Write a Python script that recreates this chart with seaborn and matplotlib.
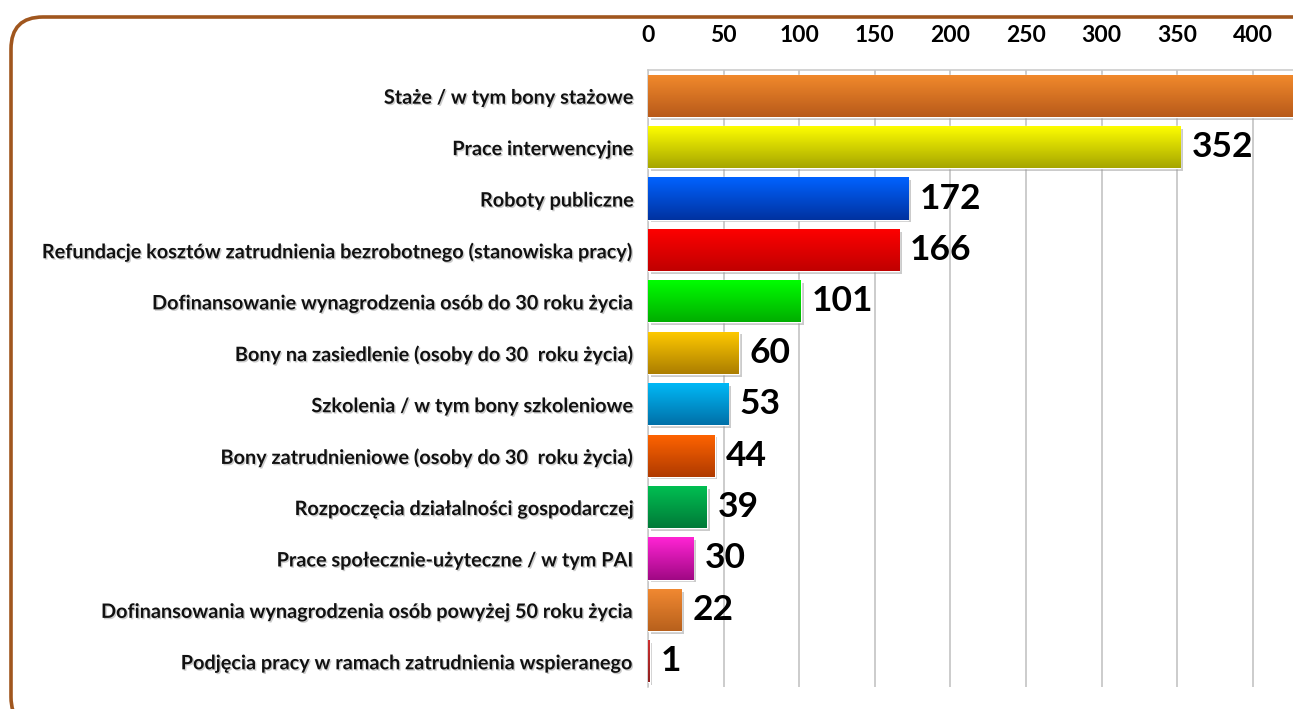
import numpy as np
import pandas as pd
import matplotlib
matplotlib.use("Agg")
import matplotlib.pyplot as plt
import matplotlib.patheffects as pe
from matplotlib.patches import FancyBboxPatch
from matplotlib.transforms import IdentityTransform
from matplotlib.colors import LinearSegmentedColormap, to_rgb
import seaborn as sns

categories = [
    "Staże / w tym bony stażowe",
    "Prace interwencyjne",
    "Roboty publiczne",
    "Refundacje kosztów zatrudnienia bezrobotnego (stanowiska pracy)",
    "Dofinansowanie wynagrodzenia osób do 30 roku życia",
    "Bony na zasiedlenie (osoby do 30  roku życia)",
    "Szkolenia / w tym bony szkoleniowe",
    "Bony zatrudnieniowe (osoby do 30  roku życia)",
    "Rozpoczęcia działalności gospodarczej",
    "Prace społecznie-użyteczne / w tym PAI",
    "Dofinansowania wynagrodzenia osób powyżej 50 roku życia",
    "Podjęcia pracy w ramach zatrudnienia wspieranego",
]
values = [470, 352, 172, 166, 101, 60, 53, 44, 39, 30, 22, 1]
top_colors = ["#F28A2C", "#FFFF00", "#0062FF", "#FF0000", "#00FF00", "#FFCA00",
              "#00BAF8", "#FF6400", "#00C052", "#FF24D4", "#F28A32", "#D03030"]
bottom_colors = ["#B85A1A", "#A6A600", "#0032A0", "#C00000", "#00AE00", "#AC7E00",
                 "#0070A8", "#B03A00", "#007A38", "#A00884", "#B8601C", "#902020"]
tick_values = [0, 50, 100, 150, 200, 250, 300, 350, 400]

W, H = 1293, 709
sns.set_theme(style="white")
plt.rcParams["font.family"] = ["Lato", "DejaVu Sans"]

fig = plt.figure(figsize=(W / 100, H / 100), dpi=100)
fig.patch.set_facecolor("white")

# frame
frame = FancyBboxPatch((11, -20), 1400, H - 17 + 20,
                       boxstyle="round,pad=0,rounding_size=32",
                       transform=IdentityTransform(), facecolor="none",
                       edgecolor="#A0561E", linewidth=2.6, zorder=0)
fig.patches.append(frame)

x0_px, px_per_unit = 648, 1.5125
xmax = 460
ax_left = x0_px / W
ax_width = xmax * px_per_unit / W
ax_top_px, ax_bot_px = 70, 687
ax = fig.add_axes([ax_left, 1 - ax_bot_px / H, ax_width, (ax_bot_px - ax_top_px) / H])

df = pd.DataFrame({"cat": categories, "val": values})
sns.barplot(data=df, y="cat", x="val", hue="cat", palette=top_colors, orient="h",
            legend=False, width=0.82, ax=ax, saturation=1, zorder=3)

# gradients + shadows
for i, p in enumerate(ax.patches):
    x, y = p.get_x(), p.get_y()
    w, h = p.get_width(), p.get_height()
    cmap = LinearSegmentedColormap.from_list("g", [to_rgb(top_colors[i]), to_rgb(bottom_colors[i])])
    grad = np.linspace(0, 1, 64).reshape(-1, 1)
    im = ax.imshow(grad, cmap=cmap, aspect="auto", extent=(x, x + w, y + h, y),
                   origin="upper", zorder=3.5, interpolation="bicubic")
    im.set_clip_path(p)
    p.set_path_effects([pe.SimplePatchShadow(offset=(2, -2), shadow_rgbFace="#999999", alpha=0.5), pe.Normal()])

ax.set_xlim(0, xmax)
ax.set_ylim(len(categories) - 0.5, -0.5)

ax.xaxis.tick_top()
ax.set_xticks(tick_values)
ax.set_xticklabels([str(t) for t in tick_values], fontsize=16.5, fontweight="bold", color="black")
ax.tick_params(axis="x", length=0, pad=17)
ax.tick_params(axis="y", length=0, pad=10)
ax.set_yticks(range(len(categories)))
ax.set_yticklabels(categories, fontsize=14.3, fontweight="bold", color="#111111")
for lbl in ax.get_yticklabels():
    lbl.set_path_effects([pe.withSimplePatchShadow(offset=(1, -1), shadow_rgbFace="#aaaaaa", alpha=0.6)])
ax.set_xlabel("")
ax.set_ylabel("")
ax.xaxis.grid(True, color="#BEBEBE", linewidth=1.1, zorder=0)
ax.set_axisbelow(True)
for s in ["right", "bottom"]:
    ax.spines[s].set_visible(False)
for s in ["top", "left"]:
    ax.spines[s].set_visible(True)
    ax.spines[s].set_color("#C8C8C8")
    ax.spines[s].set_linewidth(1.1)

# value labels (the first bar's label lies outside the visible area in the reference)
for i, v in enumerate(values):
    if i == 0:
        continue
    ax.annotate(str(v), xy=(v, i), xytext=(8, 0), textcoords="offset points",
                ha="left", va="center", fontsize=25.5, fontweight="bold", color="black",
                annotation_clip=False)

fig.savefig("out.png", dpi=100)
